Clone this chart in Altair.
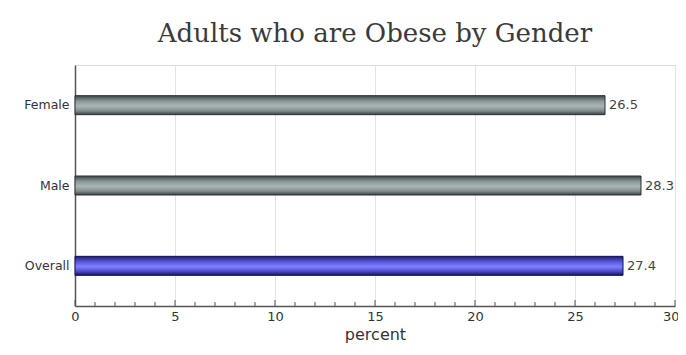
import altair as alt
import pandas as pd

categories = ["Female", "Male", "Overall"]
values = [26.5, 28.3, 27.4]
groups = ["gender", "gender", "overall"]
minor_ticks = list(range(0, 31))

df = pd.DataFrame({"cat": categories, "val": values, "grp": groups})
ticks_df = pd.DataFrame({"t": minor_ticks})

W, H = 600, 241

x_scale = alt.Scale(domain=[0, 30], nice=False)
y_scale = alt.Scale(domain=categories, paddingInner=0.0, paddingOuter=0.0)

x_enc = alt.X("val:Q", scale=x_scale,
              axis=alt.Axis(title="percent", values=[0, 5, 10, 15, 20, 25, 30],
                            grid=True, gridColor="#dfe2ea", gridWidth=1,
                            domainColor="#555555", domainWidth=1.5,
                            tickColor="#555555", tickSize=0,
                            labelFont="DejaVu Sans", labelFontSize=13, labelColor="#333333",
                            labelPadding=4,
                            labelAlign={"condition": {"test": "datum.value === 30", "value": "right"},
                                        "value": "center"},
                            labelOffset={"condition": {"test": "datum.value === 30", "value": 4},
                                         "value": 0},
                            titleFont="DejaVu Sans", titleFontSize=16, titleFontWeight="normal",
                            titleColor="#333333", titlePadding=3))
y_enc = alt.Y("cat:N", scale=y_scale, sort=categories,
              axis=alt.Axis(title=None, grid=False, ticks=False,
                            domainColor="#555555", domainWidth=1.5,
                            labelFont="DejaVu Sans", labelFontSize=12.5, labelColor="#333333",
                            labelPadding=6))

gray_grad = alt.Gradient(gradient="linear", x1=0, x2=0, y1=0, y2=1,
                         stops=[alt.GradientStop(color="#3e474a", offset=0),
                                alt.GradientStop(color="#8d9a9b", offset=0.3),
                                alt.GradientStop(color="#aab6b6", offset=0.55),
                                alt.GradientStop(color="#7f8b8c", offset=0.8),
                                alt.GradientStop(color="#3a4245", offset=1)])
blue_grad = alt.Gradient(gradient="linear", x1=0, x2=0, y1=0, y2=1,
                         stops=[alt.GradientStop(color="#1c1c70", offset=0),
                                alt.GradientStop(color="#5a5ae0", offset=0.3),
                                alt.GradientStop(color="#8080ff", offset=0.55),
                                alt.GradientStop(color="#4848c8", offset=0.8),
                                alt.GradientStop(color="#14145a", offset=1)])

base = alt.Chart(df)

gray_bars = base.transform_filter(alt.datum.grp == "gender").mark_bar(
    size=19, color=gray_grad, stroke="#2a3133", strokeWidth=1
).encode(x=x_enc, y=y_enc)

blue_bars = base.transform_filter(alt.datum.grp == "overall").mark_bar(
    size=19, color=blue_grad, stroke="#101050", strokeWidth=1
).encode(x=x_enc, y=y_enc)

labels = base.mark_text(align="left", baseline="middle", dx=4, font="DejaVu Sans",
                        fontSize=13, color="#444444").encode(
    x="val:Q", y=alt.Y("cat:N", sort=categories), text=alt.Text("val:Q", format=".1f"))

minor = alt.Chart(ticks_df).transform_filter("datum.t % 5 !== 0").mark_rule(
    color="#555555", strokeWidth=1).encode(
    x=alt.X("t:Q", scale=x_scale), y=alt.value(H), y2=alt.value(H - 4))
major = alt.Chart(ticks_df).transform_filter("datum.t % 5 === 0").mark_rule(
    color="#555555", strokeWidth=1).encode(
    x=alt.X("t:Q", scale=x_scale), y=alt.value(H), y2=alt.value(H - 6))

chart = alt.layer(gray_bars, blue_bars, labels, minor, major).properties(
    width=W, height=H,
    title=alt.TitleParams("Adults who are Obese by Gender", font="DejaVu Serif", fontSize=26,
                          fontWeight="normal", color="#3a3a3a", anchor="middle", offset=18),
    autosize=alt.AutoSizeParams(type="none"),
    padding={"left": 67, "top": 57, "right": 3, "bottom": 41},
).configure_view(stroke=None).configure(background="white")

chart.save("out.html", embed_options={"renderer": "svg", "actions": False})
